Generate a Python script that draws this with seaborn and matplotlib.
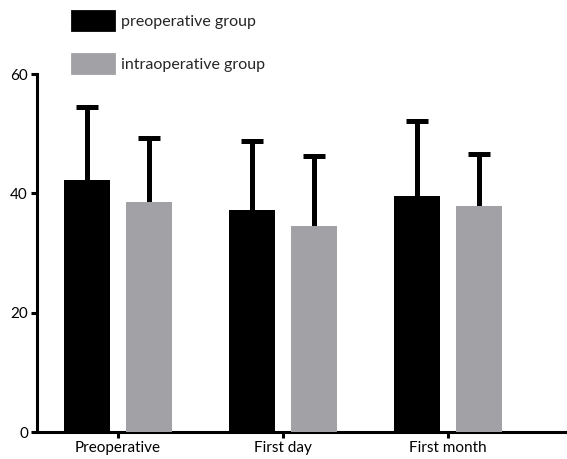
import matplotlib
matplotlib.use("Agg")
import matplotlib.pyplot as plt
import seaborn as sns
import pandas as pd
from matplotlib.patches import Patch

categories = ["Preoperative", "First day", "First month"]
groups = ["preoperative group", "intraoperative group"]
means_pre = [42.3, 37.2, 39.6]
means_intra = [38.6, 34.5, 37.9]
sd_pre = [12.1, 11.6, 12.5]
sd_intra = [10.6, 11.7, 8.7]
colors = ["#000000", "#a1a1a6"]

rows = []
for c, m in zip(categories, means_pre):
    rows.append({"time": c, "group": groups[0], "value": m})
for c, m in zip(categories, means_intra):
    rows.append({"time": c, "group": groups[1], "value": m})
df = pd.DataFrame(rows)

sns.set_style("ticks")
plt.rcParams["font.family"] = ["Lato", "DejaVu Sans"]

fig = plt.figure(figsize=(5.67, 4.59), dpi=100)
ax = fig.add_axes([37 / 567, 1 - 432 / 459, 1 - 37 / 567, (432 - 74) / 459])

sns.barplot(data=df, x="time", y="value", hue="group", order=categories,
            hue_order=groups, palette=colors, width=0.75, gap=0.256,
            errorbar=None, legend=False, ax=ax, saturation=1, zorder=3,
            linewidth=0)

# error bars (upper only), positioned from the bar patches
bars = [p for p in ax.patches]
sds = sd_pre + sd_intra
means = means_pre + means_intra
for p, m, s in zip(bars, means, sds):
    xc = p.get_x() + p.get_width() / 2
    ax.errorbar([xc], [m], yerr=[[0], [s]], fmt="none", ecolor="black",
                elinewidth=3.6, capsize=0, zorder=2)
    ax.plot([xc], [m + s], marker="_", markersize=16, markeredgewidth=3.6,
            color="black", zorder=2)

ax.set_ylim(0, 60)
ax.set_yticks([0, 20, 40, 60])
ax.set_xlim(-0.491, 2.721)
ax.set_xlabel("")
ax.set_ylabel("")
for s in ["top", "right"]:
    ax.spines[s].set_visible(False)
for s in ["left", "bottom"]:
    ax.spines[s].set_linewidth(2.2)
    ax.spines[s].set_color("black")
ax.tick_params(axis="both", width=2.2, length=4.5, color="black",
               labelsize=11, pad=2, labelcolor="black")

handles = [Patch(facecolor=colors[0], edgecolor=colors[0], joinstyle="round", linewidth=2),
           Patch(facecolor=colors[1], edgecolor=colors[1], joinstyle="round", linewidth=2)]
fig.legend(handles, groups, loc="upper left",
           bbox_to_anchor=(72 / 567, 1 - 11 / 459), frameon=False,
           borderpad=0, borderaxespad=0, handlelength=2.6, handleheight=1.5,
           labelspacing=1.45, handletextpad=0.45, fontsize=11.5)

fig.savefig("out.png", dpi=100)
